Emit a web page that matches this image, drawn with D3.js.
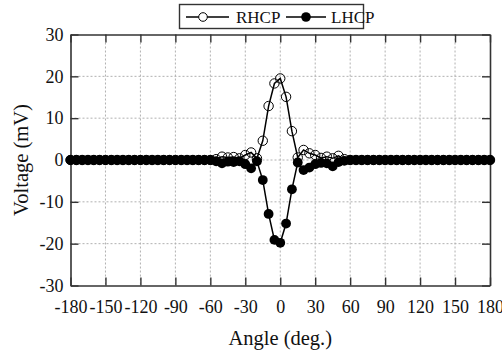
<!DOCTYPE html>
<html>
<head>
<meta charset="utf-8">
<script src="https://cdn.jsdelivr.net/npm/d3@7"></script>
<style>
body { margin: 0; background: #fff; }
</style>
</head>
<body>
<div id="vis"></div>
<script>
// angles every 5 deg, -180..180
var angles = d3.range(-180, 181, 5);
var xTicks = d3.range(-180, 181, 30);
var yTicks = [-30, -20, -10, 0, 10, 20, 30];

// only the non-zero part of each pattern, the rest is 0
var rhcpNear = {
    "-55": 0.2, "-50": 0.8, "-45": 0.6, "-40": 0.7, "-35": 0.4, "-30": 1.2, "-25": 1.8,
    "-20": 0.4, "-15": 4.6, "-10": 12.9, "-5": 18.3, "0": 19.5, "5": 15.1, "10": 6.9,
    "15": 0.6, "20": 2.4, "25": 1.6, "30": 1.2, "35": 0.5, "40": 0.8, "45": 0.4, "50": 1.0, "55": 0.2
};
var lhcpNear = {
    "-55": -0.3, "-50": -0.8, "-45": -0.4, "-40": -0.5, "-35": -0.3, "-30": -1.0, "-25": -2.0,
    "-20": -0.3, "-15": -4.8, "-10": -12.9, "-5": -19.1, "0": -19.8, "5": -15.2, "10": -7.0,
    "15": -0.6, "20": -2.4, "25": -1.8, "30": -1.0, "35": -0.7, "40": -0.8, "45": -1.5, "50": -0.5, "55": -0.2
};

var rhcp = angles.map(function(a) { return rhcpNear[a] || 0; });
var lhcp = angles.map(function(a) { return lhcpNear[a] || 0; });

var serif = "Liberation Serif, Times New Roman, serif";
var theMargins = { top: 34.5, right: 12, bottom: 67.5, left: 70.5 };
var W = 502, H = 353;
var width = W - theMargins.left - theMargins.right;
var height = H - theMargins.top - theMargins.bottom;

var x = d3.scaleLinear().domain([-180, 180]).range([0, width]);
var y = d3.scaleLinear().domain([-30, 30]).range([height, 0]);

var svg = d3.select('#vis').append('svg')
    .attr("width", W)
    .attr("height", H)
    .attr("font-family", serif);
var vis = svg.append('g')
    .attr("transform", "translate(" + theMargins.left + "," + theMargins.top + ")");

// grid
vis.append("g").selectAll("line").data(xTicks.slice(1, -1)).enter().append("line")
    .attr("x1", function(d) { return x(d); }).attr("x2", function(d) { return x(d); })
    .attr("y1", 0).attr("y2", height)
    .attr("stroke", "#b0b0b0").attr("stroke-width", 1).attr("stroke-dasharray", "2,2");
vis.append("g").selectAll("line").data(yTicks.slice(1, -1)).enter().append("line")
    .attr("y1", function(d) { return y(d); }).attr("y2", function(d) { return y(d); })
    .attr("x1", 0).attr("x2", width)
    .attr("stroke", "#b0b0b0").attr("stroke-width", 1).attr("stroke-dasharray", "2,2");

// axes, ticks inside
var plain = function(d) { return String(d); };
var xAxis = d3.axisBottom(x).tickValues(xTicks).tickSizeInner(-8).tickSizeOuter(0).tickPadding(15).tickFormat(plain);
var yAxis = d3.axisLeft(y).tickValues(yTicks).tickSizeInner(-8).tickSizeOuter(0).tickPadding(7).tickFormat(plain);
var xTop = d3.axisTop(x).tickValues(xTicks).tickSizeInner(-8).tickSizeOuter(0).tickFormat("");
var yRight = d3.axisRight(y).tickValues(yTicks).tickSizeInner(-8).tickSizeOuter(0).tickFormat("");

var gx = vis.append("g").attr("transform", "translate(0," + height + ")").call(xAxis);
var gy = vis.append("g").call(yAxis);
var gt = vis.append("g").call(xTop);
var gr = vis.append("g").attr("transform", "translate(" + width + ",0)").call(yRight);

[gx, gy, gt, gr].forEach(function(g) {
    g.attr("font-family", serif).attr("font-size", 18);
    g.selectAll("path").attr("stroke", "#333").attr("stroke-width", 1.6);
    g.selectAll("line").attr("stroke", "#333").attr("stroke-width", 1.4);
    g.selectAll("text").attr("fill", "#111");
});

// series
var line = d3.line()
    .x(function(d) { return x(d[0]); })
    .y(function(d) { return y(d[1]); });

var rData = angles.map(function(a, i) { return [a, rhcp[i]]; });
var lData = angles.map(function(a, i) { return [a, lhcp[i]]; });

vis.append("path").datum(rData).attr("d", line)
    .attr("fill", "none").attr("stroke", "#000").attr("stroke-width", 1.5);
vis.append("g").selectAll("circle").data(rData).enter().append("circle")
    .attr("cx", function(d) { return x(d[0]); })
    .attr("cy", function(d) { return y(d[1]); })
    .attr("r", 4.7)
    .attr("fill", "none").attr("stroke", "#000").attr("stroke-width", 1);

vis.append("path").datum(lData).attr("d", line)
    .attr("fill", "none").attr("stroke", "#000").attr("stroke-width", 1.5);
vis.append("g").selectAll("circle").data(lData).enter().append("circle")
    .attr("cx", function(d) { return x(d[0]); })
    .attr("cy", function(d) { return y(d[1]); })
    .attr("r", 4.9)
    .attr("fill", "#000");

// axis titles
svg.append("text")
    .attr("x", theMargins.left + width / 2).attr("y", 345)
    .attr("text-anchor", "middle").attr("font-size", 20.5).attr("fill", "#111")
    .text("Angle (deg.)");
svg.append("text")
    .attr("transform", "translate(28," + (theMargins.top + height / 2) + ") rotate(-90)")
    .attr("text-anchor", "middle").attr("font-size", 20.5).attr("fill", "#111")
    .text("Voltage (mV)");

// legend
var leg = svg.append("g").attr("font-size", 17).attr("fill", "#111");
leg.append("rect").attr("x", 179.5).attr("y", 4.5).attr("width", 184).attr("height", 24)
    .attr("fill", "#fff").attr("stroke", "#333").attr("stroke-width", 1.4);
leg.append("line").attr("x1", 186).attr("x2", 229).attr("y1", 17).attr("y2", 17)
    .attr("stroke", "#000").attr("stroke-width", 1.5);
leg.append("circle").attr("cx", 203).attr("cy", 17).attr("r", 4.3)
    .attr("fill", "#fff").attr("stroke", "#000").attr("stroke-width", 1);
leg.append("text").attr("x", 236).attr("y", 22.5).text("RHCP");
leg.append("line").attr("x1", 286).attr("x2", 326).attr("y1", 17).attr("y2", 17)
    .attr("stroke", "#000").attr("stroke-width", 1.5);
leg.append("circle").attr("cx", 306).attr("cy", 17).attr("r", 4.8).attr("fill", "#000");
leg.append("text").attr("x", 331).attr("y", 22.5).text("LHCP");
</script>
</body>
</html>
